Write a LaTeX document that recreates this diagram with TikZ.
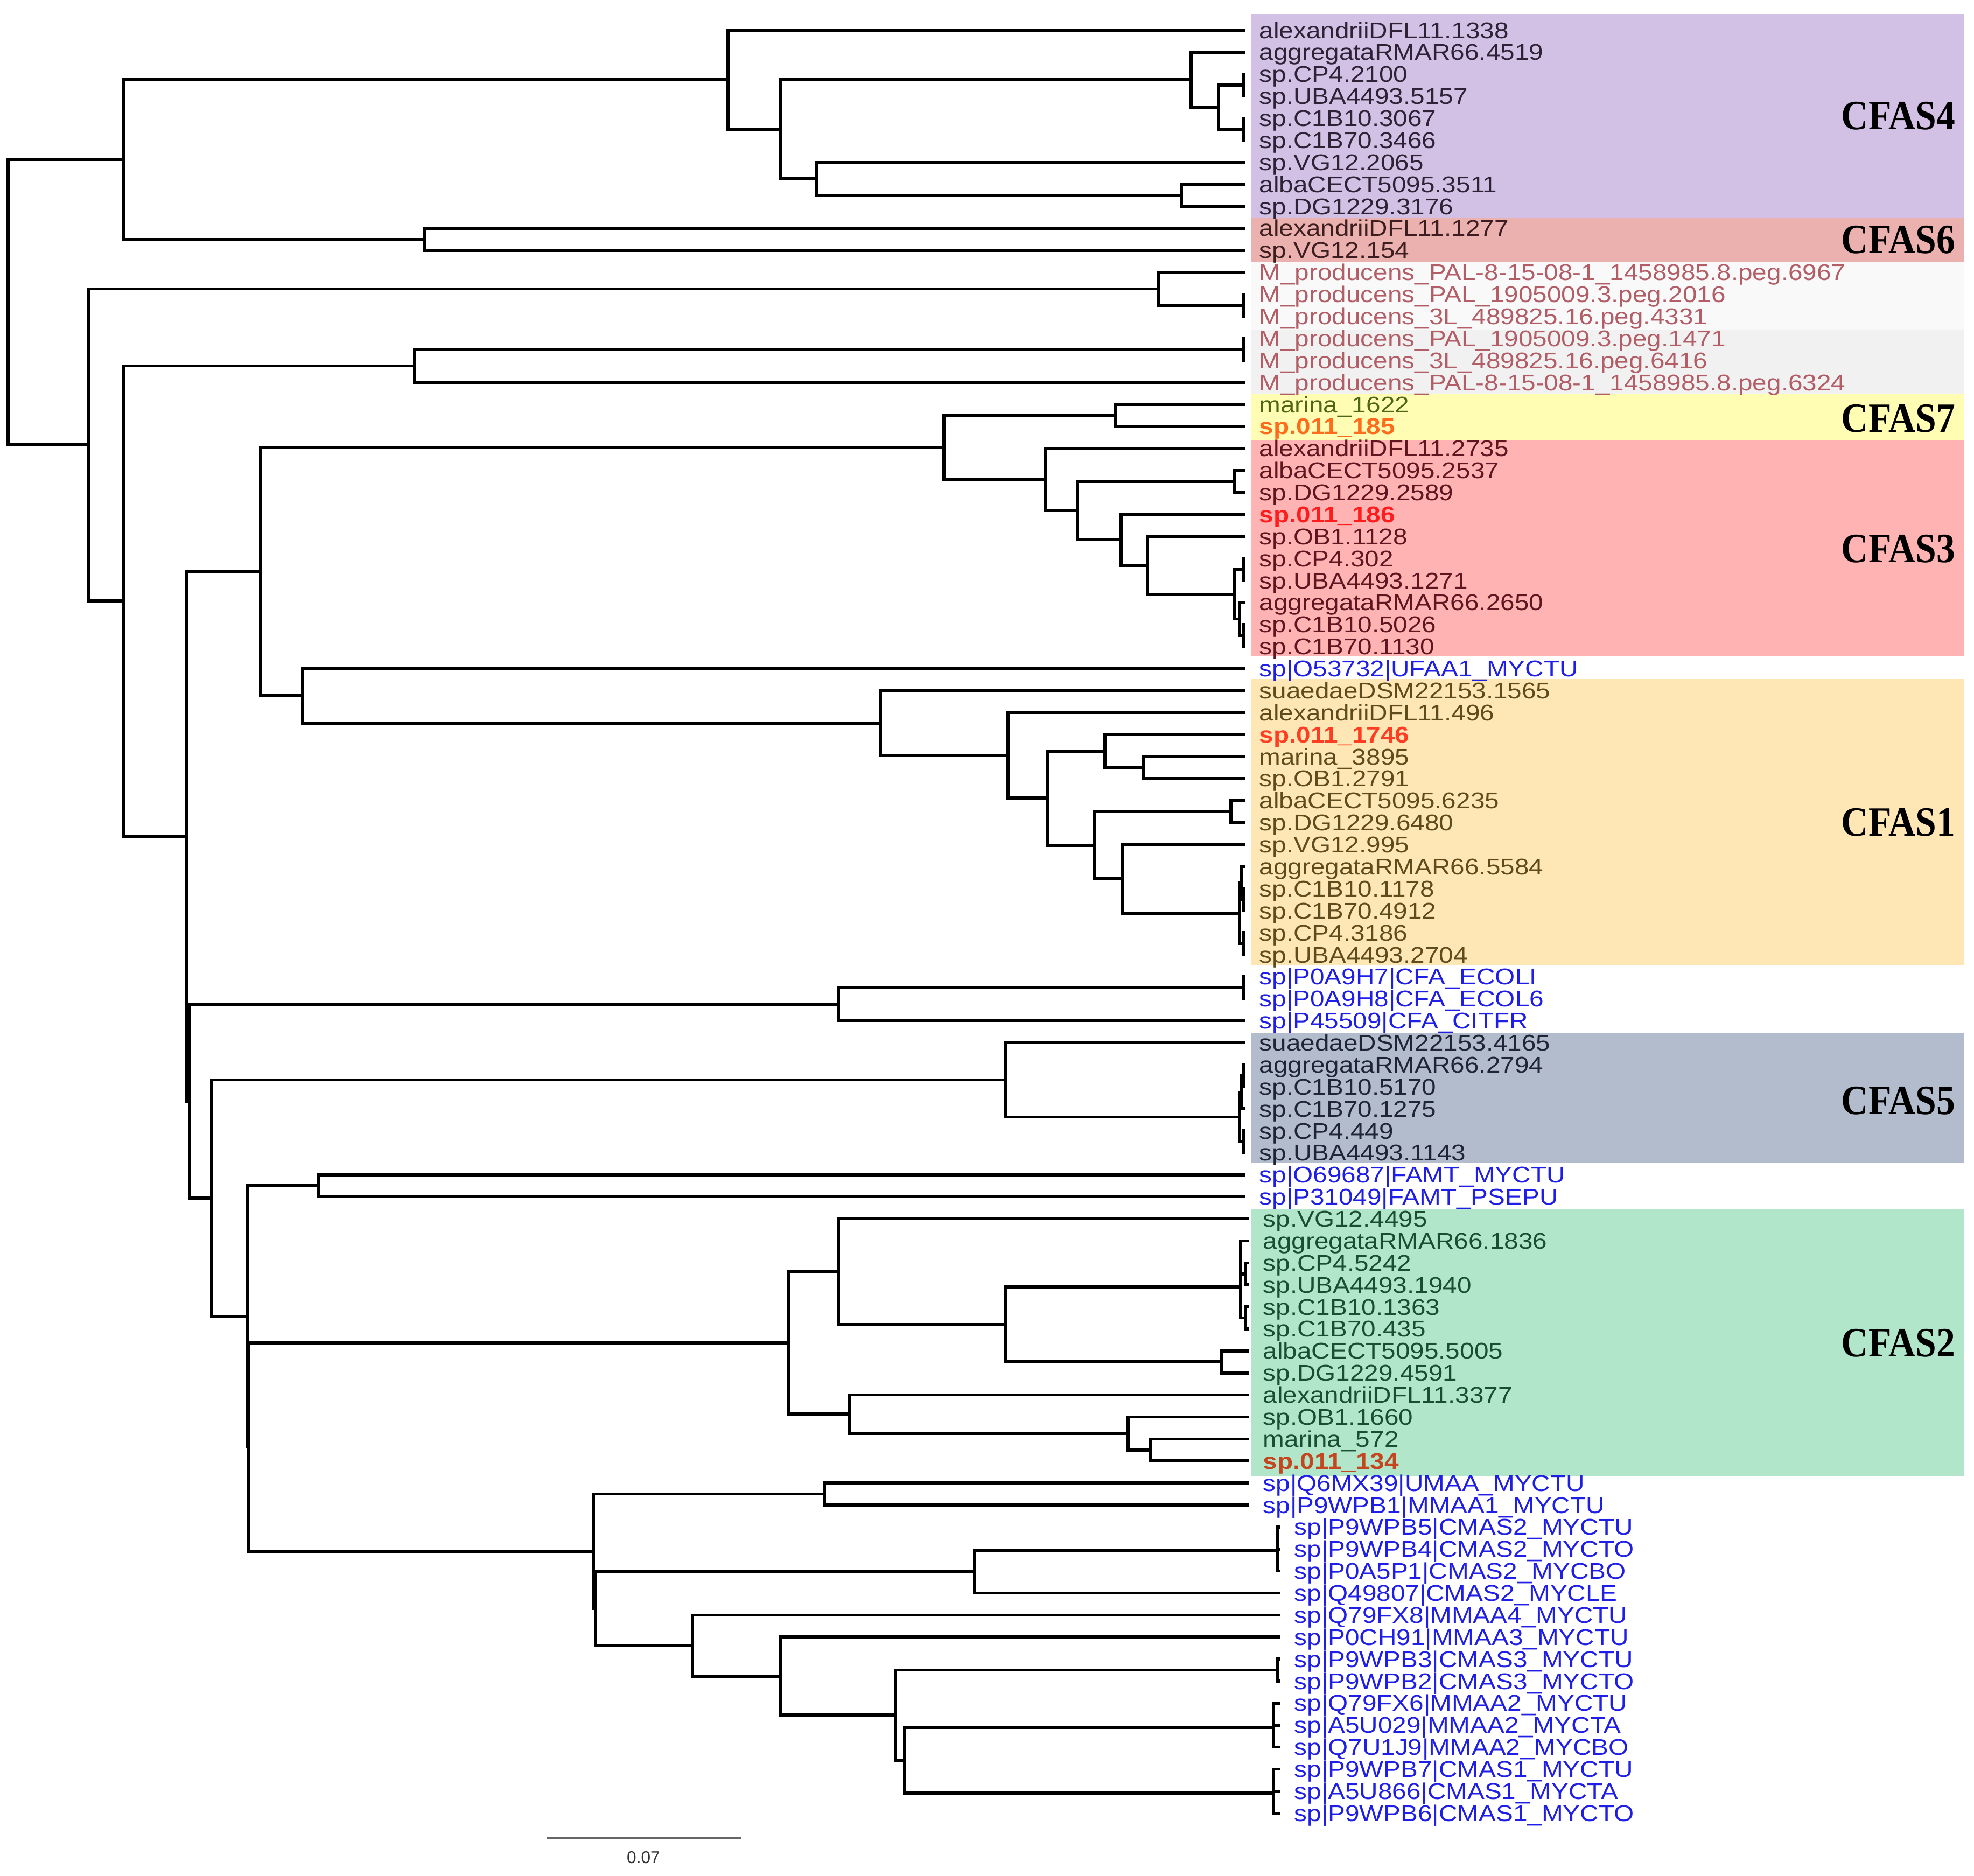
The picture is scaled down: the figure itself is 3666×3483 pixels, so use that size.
\documentclass[tikz,border=0pt]{standalone}
\usepackage{fontspec}
\usepackage{tikz}
\newfontfamily\leaffont[FakeStretch=1.13]{Liberation Sans}
\newfontfamily\cladefont[FakeStretch=0.9]{Liberation Serif}
\newfontfamily\barfont{Liberation Sans}

% clade boxes
\definecolor{boxfour}{HTML}{D3C1E5}
\definecolor{boxsix}{HTML}{EBB1AF}
\definecolor{boxmone}{HTML}{F9F9F9}
\definecolor{boxmtwo}{HTML}{F1F1F1}
\definecolor{boxseven}{HTML}{FFFDB3}
\definecolor{boxthree}{HTML}{FFB3B3}
\definecolor{boxone}{HTML}{FFE7B5}
\definecolor{boxfive}{HTML}{B2BCCD}
\definecolor{boxtwo}{HTML}{B2E6CA}
% label colours
\definecolor{txtfour}{HTML}{2D2236}
\definecolor{txtsix}{HTML}{3D1E20}
\definecolor{txtm}{HTML}{B35E67}
\definecolor{txtseven}{HTML}{4E6616}
\definecolor{txtthree}{HTML}{5E1620}
\definecolor{txtone}{HTML}{5E4C1E}
\definecolor{txtfive}{HTML}{1F2535}
\definecolor{txttwo}{HTML}{1B4E31}
\definecolor{txtref}{HTML}{1E1EE6}
\definecolor{newa}{HTML}{FF6B1C}
\definecolor{newb}{HTML}{FF1C1C}
\definecolor{newc}{HTML}{FF3D22}
\definecolor{newd}{HTML}{C4461F}

\tikzset{
  branch/.style={line width=1.6pt, black},
  leaf/.style={anchor=base west, inner sep=0pt, xshift=0.25cm, yshift=-0.15cm,
    font=\leaffont\fontsize{12}{14}\selectfont},
  newleaf/.style={leaf, font=\leaffont\bfseries\fontsize{12}{14}\selectfont},
  lf4/.style={leaf, text=txtfour},
  lf6/.style={leaf, text=txtsix},
  lfm/.style={leaf, text=txtm},
  lf7/.style={leaf, text=txtseven},
  lf3/.style={leaf, text=txtthree},
  lf1/.style={leaf, text=txtone},
  lf5/.style={leaf, text=txtfive},
  lf2/.style={leaf, text=txttwo},
  lfref/.style={leaf, text=txtref},
  clade/.style={anchor=base east, inner sep=0pt, font=\cladefont\bfseries\fontsize{22}{24}\selectfont}
}

\begin{document}
\begin{tikzpicture}[
    x = 0.01cm, % one unit per pixel
    y = -0.01cm,
    ]

    \fill[white] (0,0) rectangle (3666,3483);
    \useasboundingbox (0,0) rectangle (3666,3483);

    % clade boxes
    \fill[boxfour]  (2324,25.5) rectangle (3648,405);
    \fill[boxsix]   (2324,405)  rectangle (3648,486);
    \fill[boxmone]  (2324,486)  rectangle (3648,612);
    \fill[boxmtwo]  (2324,612)  rectangle (3648,732);
    \fill[boxseven] (2324,732)  rectangle (3648,817);
    \fill[boxthree] (2324,817)  rectangle (3648,1218);
    \fill[boxone]   (2324,1261) rectangle (3648,1793);
    \fill[boxfive]  (2324,1919) rectangle (3648,2160);
    \fill[boxtwo]   (2324,2245) rectangle (3648,2741);

    \node[clade] (cfas4) at (3632,240)  {CFAS4};
    \node[clade] (cfas6) at (3632,470)  {CFAS6};
    \node[clade] (cfas7) at (3632,802)  {CFAS7};
    \node[clade] (cfas3) at (3632,1044) {CFAS3};
    \node[clade] (cfas1) at (3632,1552) {CFAS1};
    \node[clade] (cfas5) at (3632,2069) {CFAS5};
    \node[clade] (cfas2) at (3632,2519) {CFAS2};

    % leaves
    \coordinate (l1) at (2313,56.0);   \node[lf4] (t1) at (l1) {alexandriiDFL11.1338};
    \coordinate (l2) at (2313,96.9);   \node[lf4] (t2) at (l2) {aggregataRMAR66.4519};
    \coordinate (l3) at (2313,137.8);  \node[lf4] (t3) at (l3) {sp.CP4.2100};
    \coordinate (l4) at (2313,178.6);  \node[lf4] (t4) at (l4) {sp.UBA4493.5157};
    \coordinate (l5) at (2313,219.5);  \node[lf4] (t5) at (l5) {sp.C1B10.3067};
    \coordinate (l6) at (2313,260.4);  \node[lf4] (t6) at (l6) {sp.C1B70.3466};
    \coordinate (l7) at (2313,301.3);  \node[lf4] (t7) at (l7) {sp.VG12.2065};
    \coordinate (l8) at (2313,342.2);  \node[lf4] (t8) at (l8) {albaCECT5095.3511};
    \coordinate (l9) at (2313,383.0);  \node[lf4] (t9) at (l9) {sp.DG1229.3176};
    \coordinate (l10) at (2313,423.9); \node[lf6] (t10) at (l10) {alexandriiDFL11.1277};
    \coordinate (l11) at (2313,464.8); \node[lf6] (t11) at (l11) {sp.VG12.154};
    \coordinate (l12) at (2313,505.7); \node[lfm] (t12) at (l12) {M\_producens\_PAL-8-15-08-1\_1458985.8.peg.6967};
    \coordinate (l13) at (2313,546.6); \node[lfm] (t13) at (l13) {M\_producens\_PAL\_1905009.3.peg.2016};
    \coordinate (l14) at (2313,587.4); \node[lfm] (t14) at (l14) {M\_producens\_3L\_489825.16.peg.4331};
    \coordinate (l15) at (2313,628.3); \node[lfm] (t15) at (l15) {M\_producens\_PAL\_1905009.3.peg.1471};
    \coordinate (l16) at (2313,669.2); \node[lfm] (t16) at (l16) {M\_producens\_3L\_489825.16.peg.6416};
    \coordinate (l17) at (2313,710.1); \node[lfm] (t17) at (l17) {M\_producens\_PAL-8-15-08-1\_1458985.8.peg.6324};
    \coordinate (l18) at (2313,751.0); \node[lf7] (t18) at (l18) {marina\_1622};
    \coordinate (l19) at (2313,791.8); \node[newleaf, text=newa] (t19) at (l19) {sp.011\_185};
    \coordinate (l20) at (2313,832.7); \node[lf3] (t20) at (l20) {alexandriiDFL11.2735};
    \coordinate (l21) at (2313,873.6); \node[lf3] (t21) at (l21) {albaCECT5095.2537};
    \coordinate (l22) at (2313,914.5); \node[lf3] (t22) at (l22) {sp.DG1229.2589};
    \coordinate (l23) at (2313,955.4); \node[newleaf, text=newb] (t23) at (l23) {sp.011\_186};
    \coordinate (l24) at (2313,996.2); \node[lf3] (t24) at (l24) {sp.OB1.1128};
    \coordinate (l25) at (2313,1037.1); \node[lf3] (t25) at (l25) {sp.CP4.302};
    \coordinate (l26) at (2313,1078.0); \node[lf3] (t26) at (l26) {sp.UBA4493.1271};
    \coordinate (l27) at (2313,1118.9); \node[lf3] (t27) at (l27) {aggregataRMAR66.2650};
    \coordinate (l28) at (2313,1159.8); \node[lf3] (t28) at (l28) {sp.C1B10.5026};
    \coordinate (l29) at (2313,1200.6); \node[lf3] (t29) at (l29) {sp.C1B70.1130};
    \coordinate (l30) at (2313,1241.5); \node[lfref] (t30) at (l30) {sp|O53732|UFAA1\_MYCTU};
    \coordinate (l31) at (2313,1282.4); \node[lf1] (t31) at (l31) {suaedaeDSM22153.1565};
    \coordinate (l32) at (2313,1323.3); \node[lf1] (t32) at (l32) {alexandriiDFL11.496};
    \coordinate (l33) at (2313,1364.2); \node[newleaf, text=newc] (t33) at (l33) {sp.011\_1746};
    \coordinate (l34) at (2313,1405.0); \node[lf1] (t34) at (l34) {marina\_3895};
    \coordinate (l35) at (2313,1445.9); \node[lf1] (t35) at (l35) {sp.OB1.2791};
    \coordinate (l36) at (2313,1486.8); \node[lf1] (t36) at (l36) {albaCECT5095.6235};
    \coordinate (l37) at (2313,1527.7); \node[lf1] (t37) at (l37) {sp.DG1229.6480};
    \coordinate (l38) at (2313,1568.6); \node[lf1] (t38) at (l38) {sp.VG12.995};
    \coordinate (l39) at (2313,1609.4); \node[lf1] (t39) at (l39) {aggregataRMAR66.5584};
    \coordinate (l40) at (2313,1650.3); \node[lf1] (t40) at (l40) {sp.C1B10.1178};
    \coordinate (l41) at (2313,1691.2); \node[lf1] (t41) at (l41) {sp.C1B70.4912};
    \coordinate (l42) at (2313,1732.1); \node[lf1] (t42) at (l42) {sp.CP4.3186};
    \coordinate (l43) at (2313,1773.0); \node[lf1] (t43) at (l43) {sp.UBA4493.2704};
    \coordinate (l44) at (2313,1813.8); \node[lfref] (t44) at (l44) {sp|P0A9H7|CFA\_ECOLI};
    \coordinate (l45) at (2313,1854.7); \node[lfref] (t45) at (l45) {sp|P0A9H8|CFA\_ECOL6};
    \coordinate (l46) at (2313,1895.6); \node[lfref] (t46) at (l46) {sp|P45509|CFA\_CITFR};
    \coordinate (l47) at (2313,1936.5); \node[lf5] (t47) at (l47) {suaedaeDSM22153.4165};
    \coordinate (l48) at (2313,1977.4); \node[lf5] (t48) at (l48) {aggregataRMAR66.2794};
    \coordinate (l49) at (2313,2018.2); \node[lf5] (t49) at (l49) {sp.C1B10.5170};
    \coordinate (l50) at (2313,2059.1); \node[lf5] (t50) at (l50) {sp.C1B70.1275};
    \coordinate (l51) at (2313,2100.0); \node[lf5] (t51) at (l51) {sp.CP4.449};
    \coordinate (l52) at (2313,2140.9); \node[lf5] (t52) at (l52) {sp.UBA4493.1143};
    \coordinate (l53) at (2313,2181.8); \node[lfref] (t53) at (l53) {sp|O69687|FAMT\_MYCTU};
    \coordinate (l54) at (2313,2222.6); \node[lfref] (t54) at (l54) {sp|P31049|FAMT\_PSEPU};
    \coordinate (l55) at (2320,2263.5); \node[lf2] (t55) at (l55) {sp.VG12.4495};
    \coordinate (l56) at (2320,2304.4); \node[lf2] (t56) at (l56) {aggregataRMAR66.1836};
    \coordinate (l57) at (2320,2345.3); \node[lf2] (t57) at (l57) {sp.CP4.5242};
    \coordinate (l58) at (2320,2386.2); \node[lf2] (t58) at (l58) {sp.UBA4493.1940};
    \coordinate (l59) at (2320,2427.0); \node[lf2] (t59) at (l59) {sp.C1B10.1363};
    \coordinate (l60) at (2320,2467.9); \node[lf2] (t60) at (l60) {sp.C1B70.435};
    \coordinate (l61) at (2320,2508.8); \node[lf2] (t61) at (l61) {albaCECT5095.5005};
    \coordinate (l62) at (2320,2549.7); \node[lf2] (t62) at (l62) {sp.DG1229.4591};
    \coordinate (l63) at (2320,2590.6); \node[lf2] (t63) at (l63) {alexandriiDFL11.3377};
    \coordinate (l64) at (2320,2631.4); \node[lf2] (t64) at (l64) {sp.OB1.1660};
    \coordinate (l65) at (2320,2672.3); \node[lf2] (t65) at (l65) {marina\_572};
    \coordinate (l66) at (2320,2713.2); \node[newleaf, text=newd] (t66) at (l66) {sp.011\_134};
    \coordinate (l67) at (2320,2754.1); \node[lfref] (t67) at (l67) {sp|Q6MX39|UMAA\_MYCTU};
    \coordinate (l68) at (2320,2795.0); \node[lfref] (t68) at (l68) {sp|P9WPB1|MMAA1\_MYCTU};
    \coordinate (l69) at (2378,2835.8); \node[lfref] (t69) at (l69) {sp|P9WPB5|CMAS2\_MYCTU};
    \coordinate (l70) at (2378,2876.7); \node[lfref] (t70) at (l70) {sp|P9WPB4|CMAS2\_MYCTO};
    \coordinate (l71) at (2378,2917.6); \node[lfref] (t71) at (l71) {sp|P0A5P1|CMAS2\_MYCBO};
    \coordinate (l72) at (2378,2958.5); \node[lfref] (t72) at (l72) {sp|Q49807|CMAS2\_MYCLE};
    \coordinate (l73) at (2378,2999.4); \node[lfref] (t73) at (l73) {sp|Q79FX8|MMAA4\_MYCTU};
    \coordinate (l74) at (2378,3040.2); \node[lfref] (t74) at (l74) {sp|P0CH91|MMAA3\_MYCTU};
    \coordinate (l75) at (2378,3081.1); \node[lfref] (t75) at (l75) {sp|P9WPB3|CMAS3\_MYCTU};
    \coordinate (l76) at (2378,3122.0); \node[lfref] (t76) at (l76) {sp|P9WPB2|CMAS3\_MYCTO};
    \coordinate (l77) at (2378,3162.9); \node[lfref] (t77) at (l77) {sp|Q79FX6|MMAA2\_MYCTU};
    \coordinate (l78) at (2378,3203.8); \node[lfref] (t78) at (l78) {sp|A5U029|MMAA2\_MYCTA};
    \coordinate (l79) at (2378,3244.6); \node[lfref] (t79) at (l79) {sp|Q7U1J9|MMAA2\_MYCBO};
    \coordinate (l80) at (2378,3285.5); \node[lfref] (t80) at (l80) {sp|P9WPB7|CMAS1\_MYCTU};
    \coordinate (l81) at (2378,3326.4); \node[lfref] (t81) at (l81) {sp|A5U866|CMAS1\_MYCTA};
    \coordinate (l82) at (2378,3367.3); \node[lfref] (t82) at (l82) {sp|P9WPB6|CMAS1\_MYCTO};

    % internal nodes
    \coordinate (root) at (15,561);
    \coordinate (nA) at (230,296.2);
    \coordinate (nB) at (1352,148.0);
    \coordinate (nC) at (1450,240.0);
    \coordinate (nD) at (2212,148.0);
    \coordinate (nE) at (2263,199.1);
    \coordinate (n34) at (2309,158.2);
    \coordinate (n56) at (2309,240.0);
    \coordinate (nF) at (1516,332.0);
    \coordinate (nG) at (2194,362.6);
    \coordinate (nH) at (788,444.4);
    \coordinate (nI) at (164,826);
    \coordinate (nJ) at (2151,536.4);
    \coordinate (n1314) at (2309,567.0);
    \coordinate (nK) at (230,1116);
    \coordinate (nL) at (770,679.4);
    \coordinate (n1516) at (2309,648.8);
    \coordinate (nAF) at (347,1553);
    \coordinate (nMV) at (484,1061.5);
    \coordinate (nM) at (1753,831.0);
    \coordinate (nN) at (2071,771.4);
    \coordinate (nO) at (1941,890.5);
    \coordinate (nP) at (2001,948.3);
    \coordinate (n2122) at (2292,894.0);
    \coordinate (nQ) at (2082,1002.6);
    \coordinate (nR) at (2131,1049.9);
    \coordinate (nS) at (2293,1103.6);
    \coordinate (n2526) at (2309,1057.6);
    \coordinate (nT) at (2302,1149.6);
    \coordinate (n2829) at (2309,1180.2);
    \coordinate (nV) at (562,1292);
    \coordinate (nW) at (1635,1343);
    \coordinate (nX) at (1872,1403);
    \coordinate (nY) at (1946,1482);
    \coordinate (nZ) at (2052,1394.8);
    \coordinate (n3435) at (2124,1425.5);
    \coordinate (nAA) at (2033,1570);
    \coordinate (n3637) at (2286,1507.3);
    \coordinate (nAB) at (2085,1632);
    \coordinate (nAC) at (2302,1696);
    \coordinate (n3941) at (2306,1640);
    \coordinate (n4041) at (2309,1670.8);
    \coordinate (n4243) at (2309,1752.6);
    \coordinate (nAF2) at (352,2045);
    \coordinate (nAE) at (1557,1865);
    \coordinate (n4445) at (2309,1834.3);
    \coordinate (nAH) at (393,2225);
    \coordinate (nC5) at (1868,2005.5);
    \coordinate (n4852) at (2302,2074.5);
    \coordinate (n4850) at (2306,2028.5);
    \coordinate (n4849) at (2309,1997.8);
    \coordinate (n5152) at (2309,2120.5);
    \coordinate (nAI1) at (459,2445);
    \coordinate (nFM) at (592,2202.2);
    \coordinate (nAI2) at (461,2687.5);
    \coordinate (nC2) at (1465,2494);
    \coordinate (nBA) at (1557,2361.5);
    \coordinate (nBB) at (1868,2459.5);
    \coordinate (n5660) at (2304,2390);
    \coordinate (n5758) at (2313,2365.8);
    \coordinate (n5960) at (2313,2447.5);
    \coordinate (n6162) at (2269,2529);
    \coordinate (nBC) at (1577,2626);
    \coordinate (nBD) at (2095,2662);
    \coordinate (nBE) at (2137,2692.8);
    \coordinate (nMA) at (1102,2881);
    \coordinate (nMB) at (1531,2774.6);
    \coordinate (nMA2) at (1106,2987.5);
    \coordinate (nMC) at (1810,2919);
    \coordinate (n6971) at (2373,2880);
    \coordinate (nMD) at (1286,3056);
    \coordinate (nME) at (1449,3113);
    \coordinate (nMF) at (1663,3185);
    \coordinate (n7576) at (2373,3101.6);
    \coordinate (nMG) at (1680,3269);
    \coordinate (n7779) at (2365,3208);
    \coordinate (n8082) at (2365,3330);

    % branches
    \draw[branch] (root) |- (nA) (root) |- (nI);
    \draw[branch] (nA) |- (nB) (nA) |- (nH);
    \draw[branch] (nB) |- (l1) (nB) |- (nC);
    \draw[branch] (nC) |- (nD) (nC) |- (nF);
    \draw[branch] (nD) |- (l2) (nD) |- (nE);
    \draw[branch] (nE) |- (n34) (nE) |- (n56);
    \draw[branch] (n34) |- (l3) (n34) |- (l4);
    \draw[branch] (n56) |- (l5) (n56) |- (l6);
    \draw[branch] (nF) |- (l7) (nF) |- (nG);
    \draw[branch] (nG) |- (l8) (nG) |- (l9);
    \draw[branch] (nH) |- (l10) (nH) |- (l11);
    \draw[branch] (nI) |- (nJ) (nI) |- (nK);
    \draw[branch] (nJ) |- (l12) (nJ) |- (n1314);
    \draw[branch] (n1314) |- (l13) (n1314) |- (l14);
    \draw[branch] (nK) |- (nL) (nK) |- (nAF);
    \draw[branch] (nL) |- (n1516) (nL) |- (l17);
    \draw[branch] (n1516) |- (l15) (n1516) |- (l16);
    \draw[branch] (nAF) |- (nMV) (nAF) |- (nAF2);
    \draw[branch] (nMV) |- (nM) (nMV) |- (nV);
    \draw[branch] (nM) |- (nN) (nM) |- (nO);
    \draw[branch] (nN) |- (l18) (nN) |- (l19);
    \draw[branch] (nO) |- (l20) (nO) |- (nP);
    \draw[branch] (nP) |- (n2122) (nP) |- (nQ);
    \draw[branch] (n2122) |- (l21) (n2122) |- (l22);
    \draw[branch] (nQ) |- (l23) (nQ) |- (nR);
    \draw[branch] (nR) |- (l24) (nR) |- (nS);
    \draw[branch] (nS) |- (n2526) (nS) |- (nT);
    \draw[branch] (n2526) |- (l25) (n2526) |- (l26);
    \draw[branch] (nT) |- (l27) (nT) |- (n2829);
    \draw[branch] (n2829) |- (l28) (n2829) |- (l29);
    \draw[branch] (nV) |- (l30) (nV) |- (nW);
    \draw[branch] (nW) |- (l31) (nW) |- (nX);
    \draw[branch] (nX) |- (l32) (nX) |- (nY);
    \draw[branch] (nY) |- (nZ) (nY) |- (nAA);
    \draw[branch] (nZ) |- (l33) (nZ) |- (n3435);
    \draw[branch] (n3435) |- (l34) (n3435) |- (l35);
    \draw[branch] (nAA) |- (n3637) (nAA) |- (nAB);
    \draw[branch] (n3637) |- (l36) (n3637) |- (l37);
    \draw[branch] (nAB) |- (l38) (nAB) |- (nAC);
    \draw[branch] (nAC) |- (n3941) (nAC) |- (n4243);
    \draw[branch] (n3941) |- (l39) (n3941) |- (n4041);
    \draw[branch] (n4041) |- (l40) (n4041) |- (l41);
    \draw[branch] (n4243) |- (l42) (n4243) |- (l43);
    \draw[branch] (nAF2) |- (nAE) (nAF2) |- (nAH);
    \draw[branch] (nAE) |- (n4445) (nAE) |- (l46);
    \draw[branch] (n4445) |- (l44) (n4445) |- (l45);
    \draw[branch] (nAH) |- (nC5) (nAH) |- (nAI1);
    \draw[branch] (nC5) |- (l47) (nC5) |- (n4852);
    \draw[branch] (n4852) |- (n4850) (n4852) |- (n5152);
    \draw[branch] (n4850) |- (n4849) (n4850) |- (l50);
    \draw[branch] (n4849) |- (l48) (n4849) |- (l49);
    \draw[branch] (n5152) |- (l51) (n5152) |- (l52);
    \draw[branch] (nAI1) |- (nFM) (nAI1) |- (nAI2);
    \draw[branch] (nFM) |- (l53) (nFM) |- (l54);
    \draw[branch] (nAI2) |- (nC2) (nAI2) |- (nMA);
    \draw[branch] (nC2) |- (nBA) (nC2) |- (nBC);
    \draw[branch] (nBA) |- (l55) (nBA) |- (nBB);
    \draw[branch] (nBB) |- (n5660) (nBB) |- (n6162);
    \draw[branch] (n5660) |- (l56) (n5660) |- (n5758) (n5660) |- (n5960);
    \draw[branch] (n5758) |- (l57) (n5758) |- (l58);
    \draw[branch] (n5960) |- (l59) (n5960) |- (l60);
    \draw[branch] (n6162) |- (l61) (n6162) |- (l62);
    \draw[branch] (nBC) |- (l63) (nBC) |- (nBD);
    \draw[branch] (nBD) |- (l64) (nBD) |- (nBE);
    \draw[branch] (nBE) |- (l65) (nBE) |- (l66);
    \draw[branch] (nMA) |- (nMB) (nMA) |- (nMA2);
    \draw[branch] (nMB) |- (l67) (nMB) |- (l68);
    \draw[branch] (nMA2) |- (nMC) (nMA2) |- (nMD);
    \draw[branch] (nMC) |- (n6971) (nMC) |- (l72);
    \draw[branch] (n6971) |- (l69) (n6971) |- (l70) (n6971) |- (l71);
    \draw[branch] (nMD) |- (l73) (nMD) |- (nME);
    \draw[branch] (nME) |- (l74) (nME) |- (nMF);
    \draw[branch] (nMF) |- (n7576) (nMF) |- (nMG);
    \draw[branch] (n7576) |- (l75) (n7576) |- (l76);
    \draw[branch] (nMG) |- (n7779) (nMG) |- (n8082);
    \draw[branch] (n7779) |- (l77) (n7779) |- (l78) (n7779) |- (l79);
    \draw[branch] (n8082) |- (l80) (n8082) |- (l81) (n8082) |- (l82);

    % scale bar
    \coordinate (sbl) at (1015,3413);
    \coordinate (sbr) at (1377,3413);
    \draw[line width=1.2pt, black!60] (sbl) -- (sbr);
    \node[inner sep=0pt, text=black!80, font=\barfont\fontsize{9}{11}\selectfont] (sbtext) at (1195,3450) {0.07};
\end{tikzpicture}
\end{document}
